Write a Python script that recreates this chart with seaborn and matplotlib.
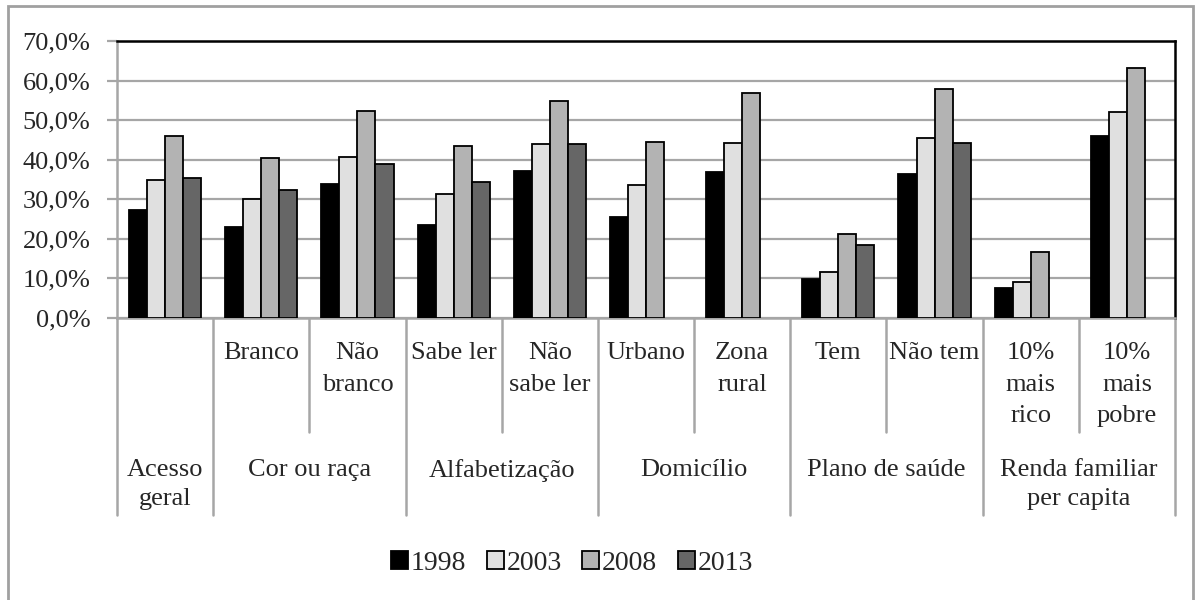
import numpy as np
import pandas as pd
import matplotlib
matplotlib.use('Agg')
import matplotlib.pyplot as plt
import seaborn as sns
from matplotlib.patches import Rectangle

# categories (sub level) and groups (top level)
categorias = ['Acesso geral', 'Branco', 'Não branco', 'Sabe ler', 'Não sabe ler',
              'Urbano', 'Zona rural', 'Tem', 'Não tem', '10% mais rico', '10% mais pobre']
rotulos_sub = ['', 'Branco', 'Não\nbranco', 'Sabe ler', 'Não\nsabe ler',
               'Urbano', 'Zona\nrural', 'Tem', 'Não tem', '10%\nmais\nrico', '10%\nmais\npobre']
grupos = ['Acesso\ngeral', 'Cor ou raça', 'Alfabetização', 'Domicílio',
          'Plano de saúde', 'Renda familiar\nper capita']
grupo_inicio = [0, 1, 3, 5, 7, 9]
grupo_fim = [0, 2, 4, 6, 8, 10]

anos = ['1998', '2003', '2008', '2013']
v1998 = [27.4, 22.9, 33.9, 23.4, 37.1, 25.6, 36.9, 9.9, 36.3, 7.6, 46.0]
v2003 = [34.8, 30.0, 40.8, 31.3, 43.9, 33.6, 44.3, 11.6, 45.5, 9.0, 52.1]
v2008 = [46.0, 40.5, 52.2, 43.4, 54.8, 44.4, 56.9, 21.3, 57.8, 16.7, 63.1]
v2013 = [35.4, 32.4, 38.8, 34.3, 44.0, np.nan, np.nan, 18.4, 44.2, np.nan, np.nan]

cores = ['#000000', '#e0e0e0', '#b3b3b3', '#666666']

df = pd.DataFrame({
    'categoria': categorias * 4,
    'ano': np.repeat(anos, len(categorias)),
    'valor': v1998 + v2003 + v2008 + v2013,
})

sns.set_style('white')
plt.rcParams['font.family'] = ['Liberation Serif', 'DejaVu Serif']
fs = 19

fig = plt.figure(figsize=(11.98, 6), dpi=100)
ax = fig.add_axes([117 / 1198, 1 - 318 / 600, (1175 - 117) / 1198, (318 - 41) / 600])

sns.barplot(data=df, x='categoria', y='valor', hue='ano', order=categorias,
            hue_order=anos, palette=cores, saturation=1, width=0.75,
            edgecolor='black', linewidth=1.3, ax=ax, errorbar=None, zorder=3)

grid_c = '#a6a6a6'
ax.set_ylim(0, 70)
ax.set_xlim(-0.5, len(categorias) - 0.5)
ax.set_yticks(np.arange(0, 71, 10))
ax.set_yticklabels([f'{v:.1f}'.replace('.', ',') + '%' for v in np.arange(0, 71, 10)],
                   fontsize=fs)
ax.yaxis.grid(True, color=grid_c, linewidth=1.6, zorder=0)
ax.set_axisbelow(True)
ax.tick_params(axis='y', direction='out', length=7, width=1.6, color=grid_c, pad=12,
               left=True)
ax.set_xticks([])
ax.set_xlabel('')
ax.set_ylabel('')
for s in ['left', 'bottom']:
    ax.spines[s].set_color(grid_c)
    ax.spines[s].set_linewidth(1.8)
for s in ['top', 'right']:
    ax.spines[s].set_color('black')
    ax.spines[s].set_linewidth(1.8)

# multi-level axis labels
trans = ax.get_xaxis_transform()
y_sub_end = -0.41
y_grp_end = -0.711
fronteiras_grupo = [-0.5] + [f + 0.5 for f in grupo_fim]
fronteiras_sub = [1.5, 3.5, 5.5, 7.5, 9.5]
for xb in fronteiras_grupo:
    ax.plot([xb, xb], [0, y_grp_end], transform=trans, color=grid_c, lw=1.8,
            clip_on=False)
for xb in fronteiras_sub:
    ax.plot([xb, xb], [0, y_sub_end], transform=trans, color=grid_c, lw=1.8,
            clip_on=False)

for i, lab in enumerate(rotulos_sub):
    if lab:
        ax.text(i, -0.088, lab, transform=trans, ha='center', va='top',
                fontsize=fs, linespacing=1.55)
for g, a, b in zip(grupos, grupo_inicio, grupo_fim):
    ax.text((a + b) / 2, -0.508, g, transform=trans, ha='center', va='top',
            fontsize=fs, linespacing=1.4)

# legend
handles, labels = ax.get_legend_handles_labels()
ax.legend(handles, labels, loc='center', bbox_to_anchor=(572 / 1198, 1 - 563 / 600),
          bbox_transform=fig.transFigure, ncol=4, frameon=False, fontsize=fs + 1,
          handlelength=0.6, handleheight=0.6, handletextpad=0.1,
          columnspacing=0.75, borderaxespad=0)

# outer chart frame
fig.patches.append(Rectangle((8 / 1198, -0.02), (1193 - 8) / 1198, 1.02 - 6 / 600,
                             transform=fig.transFigure, fill=False,
                             edgecolor='#a0a0a0', linewidth=2))

fig.savefig('out.png', dpi=100)
